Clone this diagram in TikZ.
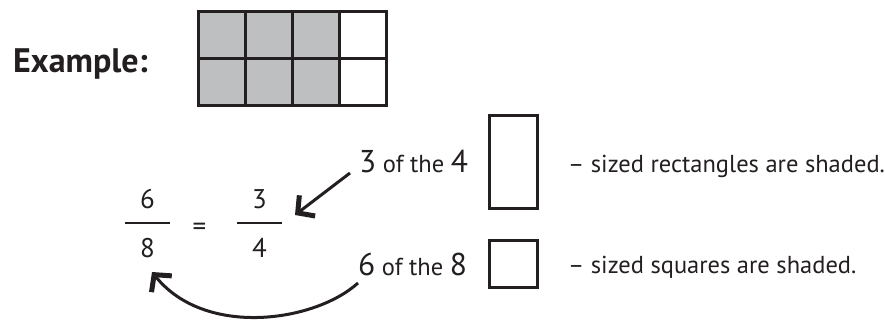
\documentclass[tikz,border=0pt]{standalone}
\usepackage{fontspec}
\setmainfont{PT Sans}
\usetikzlibrary{arrows.meta}
\definecolor{ink}{RGB}{35,31,32}
\definecolor{cellgray}{RGB}{190,191,193}
\begin{document}
\begin{tikzpicture}[x=1pt,y=-1pt,
  txt/.style={inner sep=0pt,anchor=base west,text=ink},
  small/.style={font=\fontsize{24.5}{24.5}\selectfont},
  frac/.style={inner sep=0pt,anchor=base,text=ink,font=\fontsize{27}{27}\selectfont},
  box/.style={draw=ink,line width=3pt},
  arr/.style={draw=ink,line width=3pt,-{Straight Barb[length=12pt,width=26pt,line width=5pt]}}]
\useasboundingbox (0,0) rectangle (885,320);
% Example label
\node[txt,font=\fontsize{34}{34}\selectfont\bfseries] (ex) at (13,73) {Example:};
% grid
\fill[cellgray] (198,12) rectangle (339,106);
\draw[box] (198,12) rectangle (386,106);
\draw[box] (198,59) -- (386,59);
\draw[box] (245,12) -- (245,106);
\draw[box] (292,12) -- (292,106);
\draw[box] (339,12) -- (339,106);
% fractions
\node[frac] (n6) at (147.5,209) {6};
\node[frac] (n8) at (147.5,258) {8};
\draw[ink,line width=2pt] (125,223) -- (170,223);
\node[inner sep=0pt,text=ink,font=\fontsize{27}{27}\selectfont] (eq) at (199.5,229) {=};
\node[frac] (n3) at (259.5,209) {3};
\node[frac] (n4) at (259.5,258) {4};
\draw[ink,line width=2pt] (237,223) -- (282,223);
% texts
\node[txt] (t1) at (359,173) {{\fontsize{31.5}{31.5}\selectfont 3}\fontsize{24.5}{24.5}\selectfont\ of the {\fontsize{31.5}{31.5}\selectfont 4}};
\node[txt] (t2) at (358,275) {{\fontsize{31.5}{31.5}\selectfont 6}\fontsize{24.5}{24.5}\selectfont\ of the {\fontsize{31.5}{31.5}\selectfont 8}};
\node[txt,small] (r1) at (568,173) {– sized rectangles are shaded.};
\node[txt,small] (r2) at (568,273) {– sized squares are shaded.};
% shapes
\node[box,minimum width=48pt,minimum height=93pt,inner sep=0pt] (rect) at (513,162.5) {};
\node[box,minimum width=48pt,minimum height=47pt,inner sep=0pt] (sq) at (513,264) {};
% arrows
\coordinate (a1s) at (350,173);
\coordinate (a1e) at (295,215);
\draw[arr] (a1s) -- (a1e);
\coordinate (a2s) at (358,283);
\coordinate (a2e) at (152,272);
\draw[arr] (a2s) .. controls (315,322) and (205,338) .. (a2e);
\end{tikzpicture}
\end{document}
